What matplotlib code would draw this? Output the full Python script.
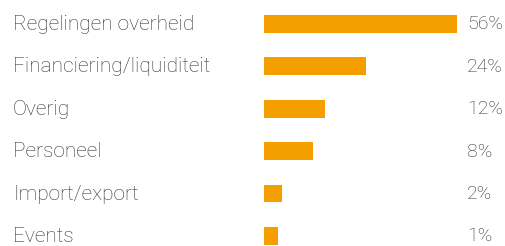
import matplotlib
matplotlib.use("Agg")
import matplotlib.pyplot as plt
import matplotlib.transforms as mtransforms

categories = ["Regelingen overheid", "Financiering/liquiditeit", "Overig",
              "Personeel", "Import/export", "Events"]
pct_labels = ["56%", "24%", "12%", "8%", "2%", "1%"]
# bar lengths as drawn in the picture (same units as the percentages)
bar_lengths = [56, 29.6, 17.7, 14.2, 5.2, 4.1]

orange = "#F49E00"
grey = "#333333"
font = "Roboto"

W, H = 505, 246
fig = plt.figure(figsize=(W / 100, H / 100), dpi=100)
ax = fig.add_axes([264 / W, 0, (W - 264) / W, 1])

y = list(range(len(categories)))
ax.barh(y, bar_lengths, height=0.42, color=orange)
ax.set_xlim(0, 70)
ax.set_ylim(5.236, -0.566)
ax.axis("off")

trans = mtransforms.blended_transform_factory(fig.transFigure, ax.transData)
for i, (cat, lab) in enumerate(zip(categories, pct_labels)):
    ax.text(13 / W, i + 0.01, cat, transform=trans, ha="left", va="center",
            fontsize=15, color=grey, family=font, fontweight="light")
    ax.text(467 / W, i + 0.01, lab, transform=trans, ha="left", va="center",
            fontsize=14, color=grey, family=font, fontweight="light")

fig.savefig("out.png", dpi=100)
